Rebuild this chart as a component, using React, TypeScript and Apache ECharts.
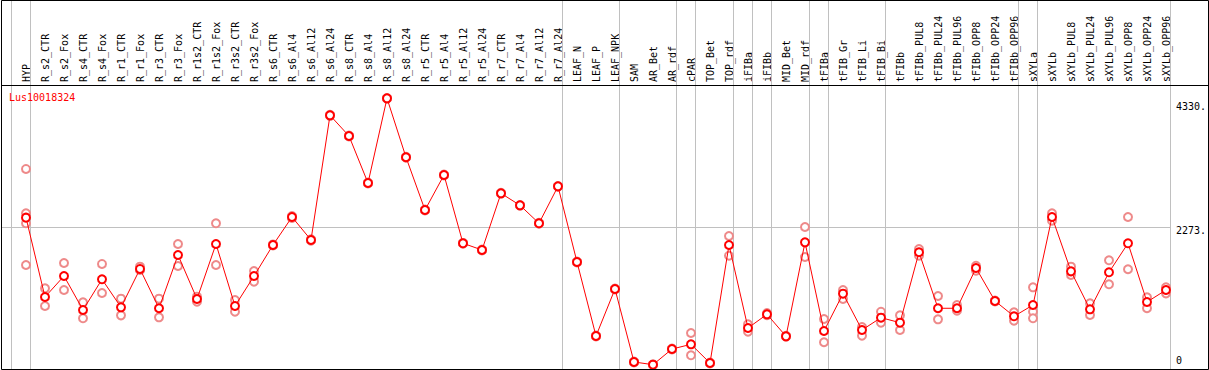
import React, { useEffect, useRef } from "react";
import * as echarts from "echarts";

const geneId = "Lus10018324";

const categories = [
  "HYP", "R_s2_CTR", "R_s2_Fox", "R_s4_CTR", "R_s4_Fox", "R_r1_CTR", "R_r1_Fox", "R_r3_CTR", "R_r3_Fox",
  "R_r1s2_CTR", "R_r1s2_Fox", "R_r3s2_CTR", "R_r3s2_Fox", "R_s6_CTR", "R_s6_Al4", "R_s6_Al12", "R_s6_Al24",
  "R_s8_CTR", "R_s8_Al4", "R_s8_Al12", "R_s8_Al24", "R_r5_CTR", "R_r5_Al4", "R_r5_Al12", "R_r5_Al24",
  "R_r7_CTR", "R_r7_Al4", "R_r7_Al12", "R_r7_Al24", "LEAF_N", "LEAF_P", "LEAF_NPK", "SAM", "AR_Bet", "AR_rdf",
  "cPAR", "TOP_Bet", "TOP_rdf", "iFIBa", "iFIBb", "MID_Bet", "MID_rdf", "tFIBa", "tFIB_Gr", "tFIB_Li", "tFIB_Bi",
  "tFIBb", "tFIBb_PUL8", "tFIBb_PUL24", "tFIBb_PUL96", "tFIBb_OPP8", "tFIBb_OPP24", "tFIBb_OPP96",
  "sXYLa", "sXYLb", "sXYLb_PUL8", "sXYLb_PUL24", "sXYLb_PUL96", "sXYLb_OPP8", "sXYLb_OPP24", "sXYLb_OPP96",
];

const means = [
  2444, 1128, 1476, 912, 1422, 957, 1593, 941, 1825, 1095, 2007, 979, 1476, 1991, 2455, 2074, 4142,
  3799, 3019, 4424, 3446, 2571, 3152, 2019, 1908, 2848, 2649, 2351, 2964, 1709, 481, 1261, 50, 5, 265,
  343, 33, 1991, 614, 841, 476, 2035, 564, 1183, 581, 785, 702, 1870, 941, 941, 1609, 1062, 808,
  995, 2455, 1554, 924, 1538, 2019, 1045, 1244,
];

const replicates: number[][] = [
  [3252, 2517, 2351, 1659], [1272, 979], [1692, 1244], [1040, 775], [1676, 1194], [1100, 824], [1631, 1576],
  [1100, 791], [2007, 1642], [1133, 1050], [2351, 1659], [1078, 884], [1559, 1382], [2000, 1982], [2470, 2440],
  [2085, 2063], [4150, 4134], [3805, 3793], [3025, 3013], [4430, 4418], [3452, 3440], [2578, 2564], [3160, 3144],
  [2025, 2013], [1915, 1901], [2855, 2841], [2655, 2643], [2358, 2344], [2970, 2958], [1716, 1702], [488, 474],
  [1268, 1254], [57, 43], [12, 0], [272, 258], [531, 161], [40, 26], [2140, 1813], [675, 552], [860, 825],
  [485, 470], [2289, 1792], [763, 377], [1244, 1095], [630, 486], [884, 702], [824, 581], [1924, 1813],
  [1145, 758], [995, 901], [1647, 1564], [1069, 1055], [874, 735], [1289, 884, 775], [2517, 2394],
  [1631, 1493], [1024, 829], [1737, 1339], [2455, 1588], [1123, 941], [1289, 1189],
];

const tickValues = [4330, 2273, 0];
const tickLabels = ["4330.", "2273.", "0"];

// indices after which a group separator is drawn (-1 = before first)
const groupEnds = [-1, 0, 28, 31, 34, 35, 37, 38, 39, 41, 42, 45, 52, 53, 60];

const MONO = "DejaVu Sans Mono";

export default function App() {
  const ref = useRef<HTMLDivElement>(null);
  useEffect(() => {
    document.body.style.margin = "0";
    if (!ref.current) return;
    const chart = echarts.init(ref.current, undefined, { renderer: "svg" });
    const repData: number[][] = [];
    replicates.forEach((reps, i) => reps.forEach((v) => repData.push([i, v])));
    chart.setOption({
      animation: false,
      grid: { left: 16.5, width: 1159, top: 85, height: 284, containLabel: false },
      xAxis: [
        {
          type: "category",
          data: categories,
          position: "top",
          gridIndex: 0,
          axisLine: { show: false },
          axisTick: { show: false },
          splitLine: { show: false },
          axisLabel: { rotate: 90, interval: 0, fontFamily: MONO, fontSize: 10, color: "#000", margin: 3 },
        },
        { type: "value", min: -0.5, max: 60.5, show: false, gridIndex: 0 },
      ],
      yAxis: { type: "value", min: -66.4, max: 4645, show: false },
      series: [
        {
          type: "scatter",
          xAxisIndex: 1,
          data: repData,
          symbol: "emptyCircle",
          symbolSize: 8,
          itemStyle: { color: "#ee8a8a", borderColor: "#ee8a8a", borderWidth: 1.2, opacity: 1 },
          z: 2,
        },
        {
          type: "line",
          xAxisIndex: 1,
          data: means.map((v, i) => [i, v]),
          symbol: "emptyCircle",
          symbolSize: 8,
          showAllSymbol: true,
          lineStyle: { color: "#ff0000", width: 1 },
          itemStyle: { color: "#ff0000", borderColor: "#ff0000", borderWidth: 1.8 },
          z: 3,
        },
      ],
    });

    const px = (xv: number, yv: number) => chart.convertToPixel({ seriesIndex: 1 }, [xv, yv]) as number[];
    const crisp = (v: number) => Math.floor(v) + 0.5;
    const graphics: any[] = [];
    const rightX = crisp(px(60 + 4.5 / 19, 0)[0]);
    groupEnds.forEach((k) => {
      const x = crisp(px(k + 4.5 / 19, 0)[0]);
      graphics.push({
        type: "line",
        shape: { x1: x, y1: 0, x2: x, y2: 369 },
        style: { stroke: "#c0c0c0", lineWidth: 1 },
        z: 1,
      });
    });
    const yMid = crisp(px(0, tickValues[1])[1]);
    graphics.push({
      type: "line",
      shape: { x1: 1, y1: yMid, x2: rightX, y2: yMid },
      style: { stroke: "#c0c0c0", lineWidth: 1 },
      z: 1,
    });
    tickValues.forEach((v, i) => {
      const y = px(0, v)[1];
      const isZero = v === 0;
      graphics.push({
        type: "text",
        x: 1176,
        y: isZero ? y + 1 : y - 2,
        style: {
          text: tickLabels[i],
          fontFamily: MONO,
          fontSize: 10,
          fill: "#000",
          align: "left",
          verticalAlign: isZero ? "bottom" : "top",
        },
        z: 10,
      });
    });
    graphics.push({
      type: "text",
      x: 9,
      y: 97,
      style: { text: geneId, fontFamily: MONO, fontSize: 10, fill: "#ff0000", align: "left", verticalAlign: "middle" },
      z: 10,
    });
    graphics.push({
      type: "line",
      shape: { x1: 1, y1: 85.5, x2: 1208, y2: 85.5 },
      style: { stroke: "#000", lineWidth: 1 },
      z: 10,
    });
    graphics.push({
      type: "rect",
      shape: { x: 1.5, y: 0.5, width: 1207, height: 369 },
      style: { fill: "none", stroke: "#000", lineWidth: 1 },
      z: 10,
    });
    chart.setOption({ graphic: graphics });
    return () => chart.dispose();
  }, []);
  return <div ref={ref} style={{ width: 1209, height: 370 }} />;
}
